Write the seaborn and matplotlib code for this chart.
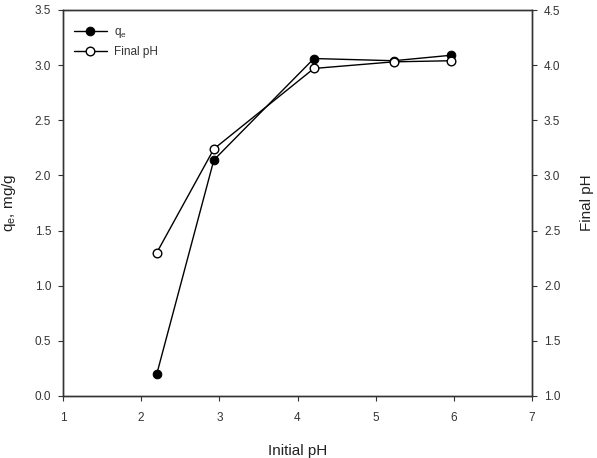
import matplotlib
matplotlib.use("Agg")
import matplotlib.pyplot as plt
import seaborn as sns
import pandas as pd

initial_ph = [2.20, 2.93, 4.21, 5.23, 5.97]
qe = [0.20, 2.14, 3.06, 3.04, 3.09]
final_ph = [2.30, 3.24, 3.97, 4.03, 4.04]
x_ticks = [1, 2, 3, 4, 5, 6, 7]
left_ticks = [0.0, 0.5, 1.0, 1.5, 2.0, 2.5, 3.0, 3.5]
right_ticks = [1.0, 1.5, 2.0, 2.5, 3.0, 3.5, 4.0, 4.5]

sns.set_theme(style="white")
plt.rcParams['font.family'] = ['Liberation Sans', 'DejaVu Sans']
plt.rcParams['mathtext.fontset'] = 'custom'
plt.rcParams['mathtext.rm'] = 'Liberation Sans'
plt.rcParams['mathtext.it'] = 'Liberation Sans'
plt.rcParams['mathtext.default'] = 'regular'

df = pd.DataFrame({"Initial pH": initial_ph, "qe": qe, "Final pH": final_ph})

fig = plt.figure(figsize=(5.97, 4.58), dpi=100)
ax = fig.add_axes([63/597, 1-396/458, (532-63)/597, (396-10)/458])
ax2 = ax.twinx()

sns.lineplot(data=df, x="Initial pH", y="qe", ax=ax, color="black", lw=1,
             marker="o", markersize=6.2, markerfacecolor="black",
             markeredgecolor="black", label=r"q$_e$", legend=False)
sns.lineplot(data=df, x="Initial pH", y="Final pH", ax=ax2, color="black", lw=1,
             marker="o", markersize=6.2, markerfacecolor="white",
             markeredgecolor="black", markeredgewidth=1, label="Final pH", legend=False)

ax.set_xlim(1, 7)
ax.set_ylim(0, 3.5)
ax2.set_ylim(1.0, 4.5)
ax.set_xticks(x_ticks)
ax.set_yticks(left_ticks)
ax2.set_yticks(right_ticks)
ax.set_xticklabels([str(t) for t in x_ticks])
ax.set_yticklabels([f"{t:.1f}" for t in left_ticks])
ax2.set_yticklabels([f"{t:.1f}" for t in right_ticks])

tc = "#333333"
ax.tick_params(axis="x", direction="out", length=3.6, width=0.8, color="#333333",
               labelsize=8.5, labelcolor=tc, pad=8, bottom=True)
ax.tick_params(axis="y", direction="out", length=3.6, width=0.8, color="#333333",
               labelsize=8.5, labelcolor=tc, pad=5, left=True)
ax2.tick_params(axis="y", direction="out", length=3.6, width=0.8, color="#333333",
                labelsize=8.5, labelcolor=tc, pad=5, right=True)

for a in (ax, ax2):
    for s in a.spines.values():
        s.set_visible(True)
        s.set_color("#333333")
        s.set_linewidth(1.0)

ax.set_xlabel("Initial pH", fontsize=11, color="#222222", labelpad=14)
ax.set_ylabel(r"q$_e$, mg/g", fontsize=11, color="#222222", labelpad=12)
ax2.set_ylabel("Final pH", fontsize=11, color="#222222", labelpad=14)

h1, l1 = ax.get_legend_handles_labels()
h2, l2 = ax2.get_legend_handles_labels()
ax2.legend(h1 + h2, l1 + l2, loc="upper left", bbox_to_anchor=(0.0, 0.985),
           frameon=False, fontsize=8.5, handlelength=2.8, handletextpad=0.6,
           labelspacing=0.5, labelcolor="#333333")

fig.savefig("out.png", dpi=100)
